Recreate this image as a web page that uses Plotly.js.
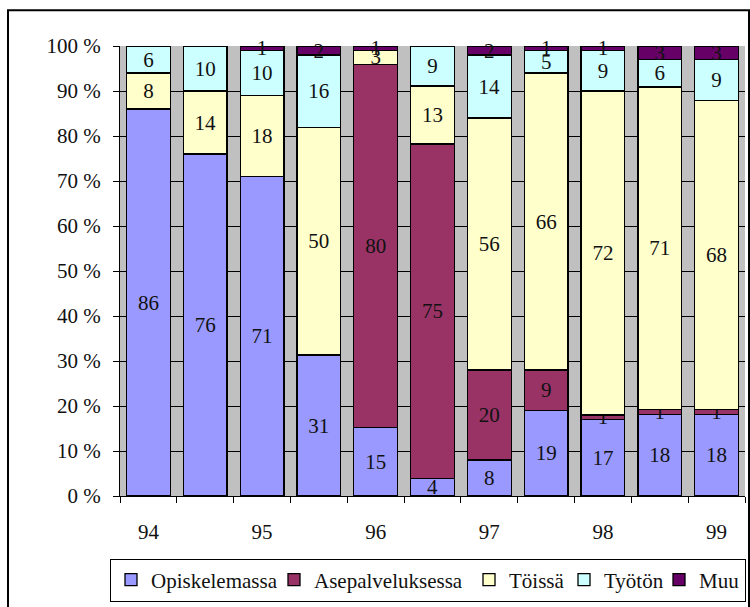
<!DOCTYPE html>
<html>
<head>
<meta charset="utf-8">
<script src="https://cdn.plot.ly/plotly-3.0.1.min.js"></script>
<style>
  html, body { margin: 0; padding: 0; background: #fff; }
  #chart { width: 750px; height: 607px; }
</style>
</head>
<body>
<div id="chart"></div>
<script>
// Survey rounds (two per year); year labels shown under every other bar
const yearLabels = ['94', '95', '96', '97', '98', '99'];
const opiskelemassa    = [86, 76, 71, 31, 15, 4, 8, 19, 17, 18, 18];
const asepalveluksessa = [null, null, null, null, 80, 75, 20, 9, 1, 1, 1];
const toissa           = [8, 14, 18, 50, 3, 13, 56, 66, 72, 71, 68];
const tyoton           = [6, 10, 10, 16, null, 9, 14, 5, 9, 6, 9];
const muu              = [null, null, 1, 2, 1, null, 2, 1, 1, 3, 3];

const seriesNames  = ['Opiskelemassa', 'Asepalveluksessa', 'Töissä', 'Työtön', 'Muu'];
const seriesValues = [opiskelemassa, asepalveluksessa, toissa, tyoton, muu];
const seriesColors = ['#9999FF', '#993366', '#FFFFCC', '#CCFFFF', '#660066'];
const legendWidths = [118, 150, 50, 50, null];

const FONT = 'Liberation Serif, Times New Roman, serif';
const FS = 21;
const xIdx = opiskelemassa.map((_, i) => i);

const traces = seriesNames.map((name, s) => {
  const t = {
    type: 'bar',
    name: name,
    x: xIdx,
    y: seriesValues[s],
    text: seriesValues[s].map(v => v == null ? '' : String(v)),
    textposition: 'inside',
    insidetextanchor: 'middle',
    textangle: 0,
    cliponaxis: false,
    constraintext: 'none',
    textfont: { family: FONT, size: FS, color: '#111' },
    marker: { color: seriesColors[s], line: { color: '#000', width: 1.3 } },
    hoverinfo: 'name+y'
  };
  if (legendWidths[s]) t.legendwidth = legendWidths[s];
  return t;
});

const boundaries = [];
for (let i = 0; i <= xIdx.length; i++) boundaries.push(i - 0.5);
const labelPos = yearLabels.map((_, i) => i * 2);

const layout = {
  width: 750, height: 607,
  margin: { l: 120, r: 5, t: 46, b: 109 },
  paper_bgcolor: '#ffffff',
  plot_bgcolor: '#C0C0C0',
  barmode: 'stack',
  barnorm: 'percent',
  bargap: 0.23,
  showlegend: true,
  uniformtext: { mode: 'show', minsize: FS },
  font: { family: FONT, size: FS, color: '#111' },
  xaxis: {
    range: [-0.5, xIdx.length - 0.5],
    tickmode: 'array',
    tickvals: labelPos,
    ticktext: yearLabels,
    ticks: 'outside', ticklen: 17, tickcolor: 'rgba(0,0,0,0)',
    minor: { tickmode: 'array', tickvals: boundaries, ticks: 'outside', ticklen: 6, tickcolor: '#000', tickwidth: 1, showgrid: false },
    showgrid: false, zeroline: false,
    showline: true, linecolor: '#000', linewidth: 1,
    tickfont: { family: FONT, size: FS, color: '#111' },
    fixedrange: true
  },
  yaxis: {
    range: [0, 100],
    tickmode: 'linear', tick0: 0, dtick: 10,
    ticksuffix: ' %',
    ticks: 'outside', ticklen: 6, tickcolor: '#000',
    ticklabelstandoff: 8,
    showgrid: true, gridcolor: '#000', gridwidth: 1,
    zeroline: false,
    showline: true, linecolor: '#000', linewidth: 1,
    tickfont: { family: FONT, size: FS, color: '#111' },
    fixedrange: true
  },
  legend: {
    orientation: 'h',
    x: (110 - 120) / 625, xanchor: 'left',
    y: -(604 - 498) / 452, yanchor: 'bottom',
    bordercolor: '#000', borderwidth: 1,
    bgcolor: '#fff',
    font: { family: FONT, size: FS, color: '#111' },
    itemwidth: 30,
    traceorder: 'normal'
  },
  shapes: [{
    type: 'rect', xref: 'paper', yref: 'paper',
    x0: (8 - 120) / 625, x1: (749 - 120) / 625,
    y0: (498 - 640) / 452, y1: (498 - 10) / 452,
    line: { color: '#000', width: 2 }, fillcolor: 'rgba(0,0,0,0)', layer: 'below'
  }]
};

Plotly.newPlot('chart', traces, layout, { displayModeBar: false, staticPlot: true });
</script>
</body>
</html>
